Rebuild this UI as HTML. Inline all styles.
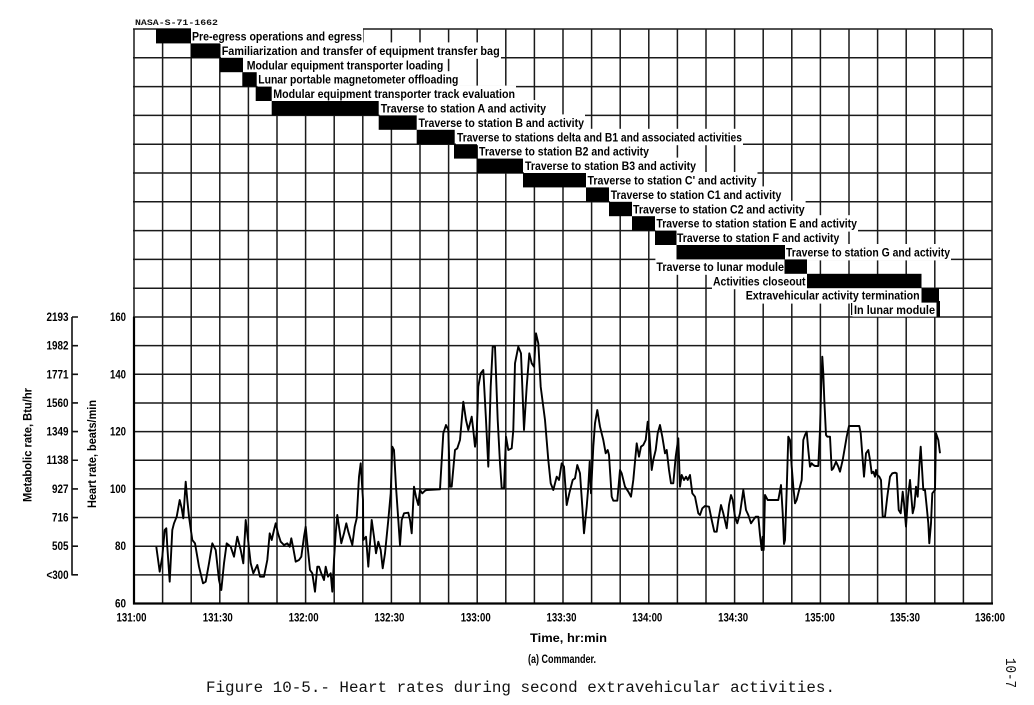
<!DOCTYPE html>
<html><head><meta charset="utf-8"><style>
html,body{margin:0;padding:0;background:#fff;}
svg{display:block;}
.l{font-family:"Liberation Sans Narrow","Liberation Sans",sans-serif;font-weight:bold;font-size:11.5px;fill:#000;}
.t{font-family:"Liberation Sans Narrow","Liberation Sans",sans-serif;font-weight:bold;font-size:11.5px;fill:#000;}
.m{font-family:"Liberation Mono",monospace;fill:#111;}
</style></head><body>
<svg width="1034" height="705" viewBox="0 0 1034 705" xmlns="http://www.w3.org/2000/svg">
<rect width="1034" height="705" fill="#fff"/>
<text x="135" y="25" class="m" font-size="8.5" font-weight="bold" textLength="83" lengthAdjust="spacingAndGlyphs">NASA-S-71-1662</text>
<g stroke="#1a1a1a" stroke-width="1.5" fill="none">
<path d="M134,29V603.5M162.6,29V603.5M191.2,29V603.5M219.8,29V603.5M248.4,29V603.5M277,29V603.5M305.6,29V603.5M334.2,29V603.5M362.8,29V603.5M391.4,29V603.5M420,29V603.5M448.6,29V603.5M477.2,29V603.5M505.8,29V603.5M534.4,29V603.5M563,29V603.5M591.6,29V603.5M620.2,29V603.5M648.8,29V603.5M677.4,29V603.5M706,29V603.5M734.6,29V603.5M763.2,29V603.5M791.8,29V603.5M820.4,29V603.5M849,29V603.5M877.6,29V603.5M906.2,29V603.5M934.8,29V603.5M963.4,29V603.5M992,29V603.5"/>
<path d="M133,29H992M133,57.8H992M133,86.6H992M133,115.4H992M133,144.2H992M133,173H992M133,201.8H992M133,230.6H992M133,259.4H992M133,288.2H992M133,317H992M133,345.65H992M133,374.3H992M133,402.95H992M133,431.6H992M133,460.25H992M133,488.9H992M133,517.55H992M133,546.2H992M133,574.85H992"/>
</g>
<path d="M134,317V604.5M133,603.5H993" stroke="#000" stroke-width="2.2" fill="none"/>
<!-- label backgrounds -->
<g fill="#fff">
<rect x="191" y="28" width="172" height="16"/>
<rect x="221" y="42.4" width="280" height="16.4"/>
<rect x="245.5" y="56.8" width="199" height="16.4"/>
<rect x="257.5" y="71.2" width="202" height="16.4"/>
<rect x="272.5" y="85.6" width="243.5" height="16.4"/>
<rect x="379.5" y="100" width="167.5" height="16.4"/>
<rect x="417.5" y="114.4" width="167.5" height="16.4"/>
<rect x="456" y="128.8" width="287" height="16.4"/>
<rect x="478" y="143.2" width="172" height="16.4"/>
<rect x="524" y="157.6" width="173" height="16.4"/>
<rect x="586.5" y="172" width="171" height="16.4"/>
<rect x="609.7" y="186.4" width="172.7" height="16.4"/>
<rect x="632" y="200.8" width="173.6" height="16.4"/>
<rect x="655.4" y="215.2" width="202.6" height="16.4"/>
<rect x="676" y="229.6" width="164.3" height="16.4"/>
<rect x="785" y="244" width="166" height="16.4"/>
<rect x="655.4" y="258.4" width="129.6" height="16.4"/>
<rect x="712" y="272.8" width="95" height="16.4"/>
<rect x="744.7" y="287.2" width="176.8" height="16.4"/>
<rect x="852.6" y="301.6" width="84" height="15"/>
</g>
<!-- bars -->
<g fill="#000">
<rect x="156" y="29" width="35" height="14.4"/>
<rect x="191" y="43.4" width="29" height="14.4"/>
<rect x="220" y="57.8" width="23" height="14.4"/>
<rect x="242.3" y="72.2" width="14.4" height="14.4"/>
<rect x="255.7" y="86.6" width="16" height="14.4"/>
<rect x="271.7" y="101" width="107" height="14.4"/>
<rect x="378.7" y="115.4" width="38" height="14.4"/>
<rect x="416.7" y="129.8" width="38" height="14.4"/>
<rect x="454" y="144.2" width="23" height="14.4"/>
<rect x="477" y="158.6" width="46" height="14.4"/>
<rect x="523" y="173" width="63" height="14.4"/>
<rect x="586" y="187.4" width="23" height="14.4"/>
<rect x="609" y="201.8" width="23" height="14.4"/>
<rect x="632" y="216.2" width="23" height="14.4"/>
<rect x="655" y="230.6" width="21.5" height="14.4"/>
<rect x="676.5" y="245" width="108.5" height="14.4"/>
<rect x="784.5" y="259.4" width="22.5" height="14.4"/>
<rect x="807" y="273.8" width="114.5" height="14.4"/>
<rect x="921.5" y="288.2" width="17.5" height="14.4"/>
<rect x="936.5" y="301" width="3.5" height="16"/>
<rect x="851" y="303" width="1.2" height="12"/>
</g>
<!-- gantt labels -->
<g class="l">
<text x="192" y="40.5" textLength="170" lengthAdjust="spacingAndGlyphs">Pre-egress operations and egress</text>
<text x="221.7" y="54.9" textLength="278" lengthAdjust="spacingAndGlyphs">Familiarization and transfer of equipment transfer bag</text>
<text x="246.7" y="69.3" textLength="196.6" lengthAdjust="spacingAndGlyphs">Modular equipment transporter loading</text>
<text x="258.3" y="83.7" textLength="200" lengthAdjust="spacingAndGlyphs">Lunar portable magnetometer offloading</text>
<text x="273.3" y="98.1" textLength="241.7" lengthAdjust="spacingAndGlyphs">Modular equipment transporter track evaluation</text>
<text x="380.7" y="112.5" textLength="165.3" lengthAdjust="spacingAndGlyphs">Traverse to station A and activity</text>
<text x="418.5" y="126.9" textLength="165.5" lengthAdjust="spacingAndGlyphs">Traverse to station B and activity</text>
<text x="457" y="141.3" textLength="285" lengthAdjust="spacingAndGlyphs">Traverse to stations delta and B1 and associated activities</text>
<text x="479" y="155.7" textLength="170" lengthAdjust="spacingAndGlyphs">Traverse to station B2 and activity</text>
<text x="525" y="170.1" textLength="171" lengthAdjust="spacingAndGlyphs">Traverse to station B3 and activity</text>
<text x="587.5" y="184.5" textLength="169" lengthAdjust="spacingAndGlyphs">Traverse to station C' and activity</text>
<text x="610.7" y="198.9" textLength="170.7" lengthAdjust="spacingAndGlyphs">Traverse to station C1 and activity</text>
<text x="633" y="213.3" textLength="171.6" lengthAdjust="spacingAndGlyphs">Traverse to station C2 and activity</text>
<text x="656.4" y="227.7" textLength="200.6" lengthAdjust="spacingAndGlyphs">Traverse to station station E and activity</text>
<text x="677" y="242.1" textLength="162.3" lengthAdjust="spacingAndGlyphs">Traverse to station F and activity</text>
<text x="786" y="256.5" textLength="164" lengthAdjust="spacingAndGlyphs">Traverse to station G and activity</text>
<text x="656.4" y="270.9" textLength="127.6" lengthAdjust="spacingAndGlyphs">Traverse to lunar module</text>
<text x="713" y="285.3" textLength="92.5" lengthAdjust="spacingAndGlyphs">Activities closeout</text>
<text x="745.7" y="299.7" textLength="174" lengthAdjust="spacingAndGlyphs">Extravehicular activity termination</text>
<text x="854" y="314" textLength="81" lengthAdjust="spacingAndGlyphs">In lunar module</text>
</g>
<!-- heart rate trace -->
<polyline fill="none" stroke="#000" stroke-width="1.9" stroke-linejoin="round" points="156.3,546.7 159.7,571.7 162.3,556.7 164.7,530 166.3,528.3 167.3,546.7 169.7,581.7 172.3,530 174,523.3 176.7,516.7 179.7,500 181.7,508.3 183.3,518.3 185.7,481.7 187.3,500 189,516.7 192.3,540 195,543.3 199,566.7 203,583.3 205.7,581.7 209,563.3 212.3,543.3 215.7,550 219,580 221.3,590 224,563.3 226.7,543.3 230.7,546.7 234,556.7 237.3,536.7 240.7,550 243.3,563.3 245.7,520 247.3,533.3 250.7,563.3 253.3,573.3 257.3,565 260,576.7 264,576.7 267.3,560 269.7,533.3 271.7,540 274,530 275.7,523.3 278,533.3 280.7,541.7 284,545 287.3,543.3 289.7,546.7 291.3,538.3 293.3,548.3 295.7,561.7 299,560 301.3,556.7 304,536.7 305.7,526.7 307.3,543.3 310,570 312.3,573.3 315,591.7 317.3,566.7 319,566.7 321.3,573.3 324,580 325.7,566.7 328,576.7 330.7,573.3 332.3,591.7 334,560 335.7,533.3 337.3,515 339,526.7 341.3,543.3 344,533.3 346.3,523.3 348.3,531.7 352.3,545 354.7,526.7 356.7,518.3 359,476.7 360.7,463.3 363,500 363.3,540 366,536.7 368.3,566.7 371.7,520 374,536.7 376,553.3 378.3,541.7 380.7,550 382.7,568.3 385,553.3 388.3,520 390.7,493.3 392.3,446.7 394,450 396,486.7 398.3,520 400,545 401.7,520 404,513.3 408.3,512.7 410,520 411.7,533.3 414,486.7 416,496.7 418.3,505 420,490 422.3,493.3 425,490.7 426.7,490 440,489.3 443.3,433.3 446,425 448.3,430 450,486.7 451.7,486.7 455,450 457.3,448.3 460,440 463.3,401.7 466,420 468.3,430 471.7,416.7 473.3,430 475,446.7 476.7,433.3 478.3,386.7 480.7,373.3 483.3,370 486,420 488.3,466.7 490.7,386.7 492.7,346.7 495,346.7 497.7,420 500,463.3 501.7,488.3 504,488.3 506,436.7 508.3,450 511.7,448.3 513.3,430 515,363.3 518.3,346.7 521,353.3 524,430 526.7,386.7 529.3,353.3 531.7,363.3 534,366.7 536,333.3 538.3,343.3 540.7,386.7 545,420 548.3,460 550.7,483.3 553.3,490 556.7,476.7 559,480 561.7,463.3 564,466.7 566.7,505 569.3,493.3 572.7,480 575,478.3 577.3,465 580,473.3 582.3,506.7 584,533.3 586.7,506.7 588.3,486.7 589.7,461.7 591,493.3 593.3,446.7 595,423.3 597.3,410 600,426.7 603.3,440 605.7,453.3 607.7,450 609,455 611.7,496.7 613.3,500.7 617.3,500.7 620,470 621.7,473.3 625,486.7 628.3,491.7 631,496.7 633.3,480 636.7,443.3 639,456.7 641,446.7 643.3,445 645.7,440 647.7,421.7 649.3,433.3 651.7,470 653.3,460 655.7,450 657.7,433.3 660,425 662.3,436.7 665,453.3 666.7,450 669,470 671,483.3 673.3,483.3 675.7,456.7 678.3,438.3 680,486.7 681.7,475 684,480 686,476.7 687.7,480 690,475 692.3,493.3 695,496.7 698.3,513.3 700,515 702.3,508.3 705,506 709,506.7 711.7,520 714.3,531.7 716.7,531.7 718.3,520 721,505 723.3,513.3 726.7,528.3 729,505 731,495 732.7,500 735,516.7 737.3,523.3 740,513.3 743.3,490 746,510 748.3,515 751,523.3 753.3,520 755.7,516.7 758.3,516.7 760,535 761.7,550 762.7,536.7 763.7,550 765,495 767.7,500 778.3,500 781,485 782.7,513.3 784,544 785,540 786.7,490 788.3,436.7 790,440 791.7,466.7 793.3,486.7 795,503.3 796.7,500 798.3,493.3 801.7,480 803.3,440 805,435 806.7,431.7 808.3,450 810,466.7 811.7,463.3 813.3,465 815,466 818.3,466 820,430 821,393.3 822.3,356.7 823.3,373.3 824.3,400 826,435 827.3,436.7 830,436.7 831.7,470 833.3,468.3 836,461.7 838.3,466.7 840,471.7 842.7,460 845,446.7 846.7,436.7 849,426 859.3,426 860.7,433.3 862.7,460 864,476.7 866,453.3 868.3,450 870,460 871.7,473.3 873.3,471.7 875,476.7 876,470 877.3,475 879.3,476.7 881,480 882.7,516.7 885,516.7 887.3,496.7 890,476.7 892.3,473.3 895,472.7 896.7,473.3 898.7,510 900.7,513.3 902.7,491.7 904,503.3 906,526.7 908,496.7 910,480 912.7,513.3 914.3,506.7 916,486.7 917.7,496.7 919.3,466.7 920.7,446.7 921.7,463.3 923.3,490 925,490 926.7,506.7 928.3,523.3 929.3,543.3 931,523.3 932.3,493.3 935,490 936,433.3 938.3,440 940,453.3"/>
<!-- metabolic axis -->
<path d="M72,317V575.5M72,317H78M72,345.65H78M72,374.3H78M72,402.95H78M72,431.6H78M72,460.25H78M72,488.9H78M72,517.55H78M72,546.2H78M72,574.85H78" stroke="#111" stroke-width="1.6" fill="none"/>
<g class="t" text-anchor="end">
<text x="68.5" y="321" textLength="22" lengthAdjust="spacingAndGlyphs">2193</text>
<text x="68.5" y="349.6" textLength="22" lengthAdjust="spacingAndGlyphs">1982</text>
<text x="68.5" y="378.3" textLength="22" lengthAdjust="spacingAndGlyphs">1771</text>
<text x="68.5" y="407" textLength="22" lengthAdjust="spacingAndGlyphs">1560</text>
<text x="68.5" y="435.6" textLength="22" lengthAdjust="spacingAndGlyphs">1349</text>
<text x="68.5" y="464.2" textLength="22" lengthAdjust="spacingAndGlyphs">1138</text>
<text x="68.5" y="492.9" textLength="16.5" lengthAdjust="spacingAndGlyphs">927</text>
<text x="68.5" y="521.5" textLength="16.5" lengthAdjust="spacingAndGlyphs">716</text>
<text x="68.5" y="550.2" textLength="16.5" lengthAdjust="spacingAndGlyphs">505</text>
<text x="68.5" y="578.8" textLength="22" lengthAdjust="spacingAndGlyphs">&lt;300</text>
<text x="126" y="321" textLength="16" lengthAdjust="spacingAndGlyphs">160</text>
<text x="126" y="378.3" textLength="16" lengthAdjust="spacingAndGlyphs">140</text>
<text x="126" y="435.6" textLength="16" lengthAdjust="spacingAndGlyphs">120</text>
<text x="126" y="492.9" textLength="16" lengthAdjust="spacingAndGlyphs">100</text>
<text x="126" y="550.2" textLength="11" lengthAdjust="spacingAndGlyphs">80</text>
<text x="126" y="607.5" textLength="11" lengthAdjust="spacingAndGlyphs">60</text>
</g>
<g class="t" text-anchor="middle">
<text x="131.5" y="621.5" textLength="30" lengthAdjust="spacingAndGlyphs">131:00</text>
<text x="217.8" y="621.5" textLength="30" lengthAdjust="spacingAndGlyphs">131:30</text>
<text x="303.6" y="621.5" textLength="30" lengthAdjust="spacingAndGlyphs">132:00</text>
<text x="389.4" y="621.5" textLength="30" lengthAdjust="spacingAndGlyphs">132:30</text>
<text x="475.7" y="621.5" textLength="30" lengthAdjust="spacingAndGlyphs">133:00</text>
<text x="561.5" y="621.5" textLength="30" lengthAdjust="spacingAndGlyphs">133:30</text>
<text x="647.3" y="621.5" textLength="30" lengthAdjust="spacingAndGlyphs">134:00</text>
<text x="733.1" y="621.5" textLength="30" lengthAdjust="spacingAndGlyphs">134:30</text>
<text x="819.9" y="621.5" textLength="30" lengthAdjust="spacingAndGlyphs">135:00</text>
<text x="905" y="621.5" textLength="30" lengthAdjust="spacingAndGlyphs">135:30</text>
<text x="990" y="621.5" textLength="30" lengthAdjust="spacingAndGlyphs">136:00</text>
<text transform="translate(31.5,445) rotate(-90)" textLength="114" lengthAdjust="spacingAndGlyphs">Metabolic rate, Btu/hr</text>
<text transform="translate(96,454) rotate(-90)" textLength="108" lengthAdjust="spacingAndGlyphs">Heart rate, beats/min</text>
</g>
<text x="530" y="642" class="t" font-size="11" textLength="77" lengthAdjust="spacingAndGlyphs">Time, hr:min</text>
<text x="528" y="663" class="t" font-size="10.5" textLength="68" lengthAdjust="spacingAndGlyphs">(a) Commander.</text>
<text x="206" y="692" class="m" font-size="15.5" textLength="629" lengthAdjust="spacingAndGlyphs">Figure 10-5.- Heart rates during second extravehicular activities.</text>
<text transform="translate(1006,658) rotate(90)" class="m" font-size="14.5" textLength="30" lengthAdjust="spacingAndGlyphs">10-7</text>
</svg>
</body></html>
